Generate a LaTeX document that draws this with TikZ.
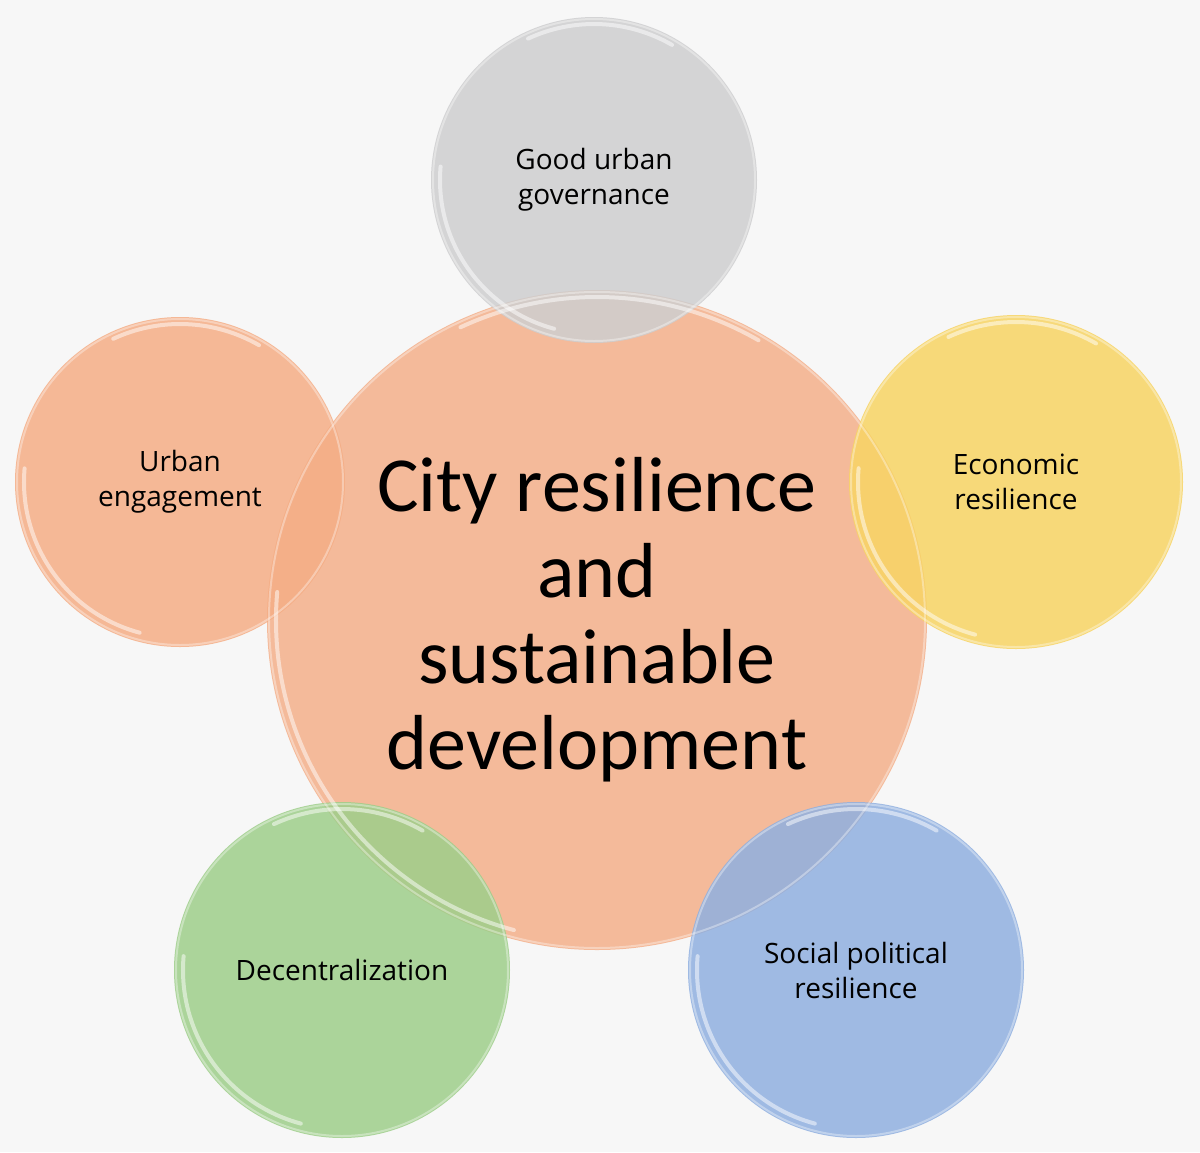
\documentclass[tikz,border=0pt]{standalone}
\usepackage{fontspec}
\setmainfont{Carlito}
\newfontfamily\labelfont{Open Sans}
\definecolor{bg}{RGB}{247,247,247}
\definecolor{cityorange}{RGB}{244,176,138}
\definecolor{engorange}{RGB}{245,174,134}
\definecolor{govgray}{RGB}{206,206,208}
\definecolor{ecoyellow}{RGB}{248,212,100}
\definecolor{decgreen}{RGB}{158,206,138}
\definecolor{socblue}{RGB}{144,176,224}
\tikzset{
  bubble/.style={circle, inner sep=0pt, fill opacity=.85, text opacity=1, align=center},
  small/.style={font=\labelfont\fontsize{14}{17.5}\selectfont},
  rim/.style={white, line width=2pt, opacity=.5, line cap=round},
}
\begin{document}
\begin{tikzpicture}[x=0.5pt, y=-0.5pt]
    \fill[bg] (0,0) rectangle (1200,1152);
    \useasboundingbox (0,0) rectangle (1200,1152);
    % centre
    \node[bubble, fill=cityorange, minimum size=330pt,
          font=\fontsize{39}{43}\selectfont] (city) at (597,620)
          {City resilience\\and\\sustainable\\development};
    % satellites
    \node[bubble, small, fill=govgray, minimum size=163pt] (gov) at (594,180) {Good urban\\governance};
    \node[bubble, small, fill=engorange, minimum size=165pt] (eng) at (180,482) {Urban\\engagement};
    \node[bubble, small, fill=ecoyellow, minimum size=167pt] (eco) at (1016,482) {Economic\\resilience};
    \node[bubble, small, fill=decgreen, minimum size=168pt] (dec) at (342,970) {Decentralization};
    \node[bubble, small, fill=socblue, minimum size=168pt] (soc) at (856,970) {Social political\\resilience};
    % glossy rims
    \foreach \nd/\r in {city/330,gov/163,eng/165,eco/167,dec/168,soc/168}{
        \draw[rim, shift={(\nd.center)}] (105:{\r-9}) arc[start angle=105, end angle=185, radius={\r-9}];
        \draw[rim, shift={(\nd.center)}] (245:{\r-7}) arc[start angle=245, end angle=300, radius={\r-7}];
        \draw[white, opacity=.35, line width=1pt, shift={(\nd.center)}] (0,0) circle[radius={\r-2}];
    }
\end{tikzpicture}
\end{document}
